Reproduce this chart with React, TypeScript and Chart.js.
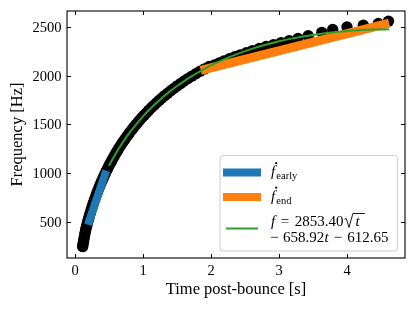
import React, { useEffect, useRef } from "react";
import { Chart, registerables } from "chart.js";

Chart.register(...registerables);

// ---- axis ranges & ticks ----
const xRange = [-0.118, 4.853];
const yRange = [128, 2664];
const xTicks = [0, 1, 2, 3, 4];
const yTicks = [500, 1000, 1500, 2000, 2500];

// ---- observed frequency track (time [s], frequency [Hz]) ----
const observed: [number, number][] = [
  [0.112, 245], [0.117, 266], [0.123, 290], [0.129, 314], [0.136, 340], [0.143, 366],
  [0.15, 393], [0.158, 420], [0.167, 445], [0.176, 470], [0.185, 495], [0.195, 520],
  [0.205, 545], [0.215, 570], [0.226, 595], [0.237, 620], [0.248, 645], [0.26, 670],
  [0.271, 695], [0.284, 720], [0.296, 745], [0.309, 770], [0.322, 795], [0.336, 820],
  [0.35, 845], [0.365, 870], [0.38, 895], [0.395, 920], [0.411, 945], [0.427, 970],
  [0.444, 995], [0.46, 1020], [0.478, 1045], [0.496, 1070], [0.515, 1095], [0.534, 1120],
  [0.553, 1145], [0.574, 1170], [0.594, 1195], [0.615, 1220], [0.637, 1245], [0.659, 1270],
  [0.682, 1295], [0.706, 1320], [0.731, 1345], [0.757, 1370], [0.782, 1395], [0.808, 1420],
  [0.836, 1445], [0.864, 1470], [0.893, 1495], [0.922, 1520], [0.953, 1545], [0.984, 1570],
  [1.018, 1595], [1.052, 1620], [1.086, 1645], [1.122, 1670], [1.159, 1695], [1.196, 1720],
  [1.237, 1745], [1.277, 1770], [1.319, 1795], [1.363, 1820], [1.408, 1845], [1.455, 1870],
  [1.503, 1895], [1.554, 1920], [1.605, 1945], [1.661, 1970], [1.717, 1995], [1.777, 2020],
  [1.84, 2045], [1.904, 2070], [1.973, 2095], [2.05, 2110], [2.12, 2131], [2.19, 2151],
  [2.27, 2173], [2.35, 2194], [2.43, 2214], [2.52, 2236], [2.61, 2257], [2.71, 2279],
  [2.81, 2299], [2.92, 2319], [3.03, 2339], [3.15, 2360], [3.28, 2382], [3.43, 2410],
  [3.63, 2445], [3.79, 2474], [4.0, 2499], [4.24, 2517], [4.46, 2535], [4.61, 2558],
];

// ---- linear fits ----
const earlyFit: [number, number][] = [[0.19, 470], [0.46, 1025]];
const endFit: [number, number][] = [[1.85, 2054], [4.62, 2540]];

// ---- sqrt fit curve ----
const sqrtFit: [number, number][] = [
  [0.5, 1075], [0.55, 1141], [0.6, 1202], [0.65, 1260], [0.7, 1313], [0.8, 1412],
  [0.9, 1501], [1.0, 1582], [1.1, 1655], [1.2, 1722], [1.3, 1784], [1.4, 1841],
  [1.5, 1894], [1.6, 1942], [1.7, 1988], [1.8, 2030], [1.9, 2068], [2.0, 2105],
  [2.2, 2170], [2.4, 2226], [2.6, 2275], [2.8, 2317], [3.0, 2353], [3.2, 2383],
  [3.4, 2408], [3.6, 2429], [3.8, 2446], [4.0, 2458], [4.2, 2468], [4.4, 2473], [4.62, 2476],
];

const BLUE = "#1f77b4";
const ORANGE = "#ff7f0e";
const GREEN = "#2ca02c";
const SERIF = '"Liberation Serif", "Times New Roman", serif';

const toXY = (arr: [number, number][]) => arr.map(([x, y]) => ({ x, y }));

function drawLegend(ctx: CanvasRenderingContext2D) {
  const bx = 220, by = 155.5, bw = 177.5, bh = 95.5, r = 3;
  ctx.save();
  ctx.beginPath();
  ctx.moveTo(bx + r, by);
  ctx.arcTo(bx + bw, by, bx + bw, by + bh, r);
  ctx.arcTo(bx + bw, by + bh, bx, by + bh, r);
  ctx.arcTo(bx, by + bh, bx, by, r);
  ctx.arcTo(bx, by, bx + bw, by, r);
  ctx.closePath();
  ctx.fillStyle = "rgba(255,255,255,0.8)";
  ctx.fill();
  ctx.strokeStyle = "#cccccc";
  ctx.lineWidth = 1;
  ctx.stroke();

  // handles
  ctx.lineCap = "butt";
  ctx.strokeStyle = BLUE;
  ctx.lineWidth = 8;
  ctx.beginPath(); ctx.moveTo(223, 172.5); ctx.lineTo(261, 172.5); ctx.stroke();
  ctx.strokeStyle = ORANGE;
  ctx.beginPath(); ctx.moveTo(223, 197); ctx.lineTo(261, 197); ctx.stroke();
  ctx.strokeStyle = GREEN;
  ctx.lineWidth = 2;
  ctx.beginPath(); ctx.moveTo(226, 228.5); ctx.lineTo(258, 228.5); ctx.stroke();

  ctx.fillStyle = "#000";
  ctx.textAlign = "left";
  ctx.textBaseline = "alphabetic";
  const fs = 15;
  const rom = `${fs}px ${SERIF}`;
  const ita = `italic ${fs}px ${SERIF}`;
  const sub = `10.5px ${SERIF}`;
  const put = (t: string, font: string, x: number, y: number) => {
    ctx.font = font;
    ctx.fillText(t, x, y);
    return x + ctx.measureText(t).width;
  };
  const fdot = (x: number, y: number, label: string) => {
    const e = put("f", ita, x, y);
    ctx.beginPath();
    ctx.arc(x + 5.2, y - 12.8, 1.1, 0, Math.PI * 2);
    ctx.fill();
    put(label, sub, e + 1.2, y + 3);
  };
  fdot(271, 176, "early");
  fdot(271, 200.5, "end");

  // line 1: f = 2853.40 sqrt(t)
  let x = put("f", ita, 271, 225.5);
  x = put("=", rom, x + 5.5, 225.5);
  x = put("2853.40", rom, x + 5.5, 225.5);
  // radical sign
  ctx.strokeStyle = "#000";
  ctx.lineWidth = 0.9;
  ctx.lineCap = "butt";
  ctx.beginPath();
  ctx.moveTo(x + 1.2, 219.5);
  ctx.lineTo(x + 2.8, 218.3);
  ctx.lineTo(x + 5.6, 227.5);
  ctx.lineTo(x + 9.5, 213.5);
  ctx.lineTo(x + 21.5, 213.5);
  ctx.stroke();
  put("t", ita, x + 12, 225.5);

  // line 2: - 658.92t - 612.65
  x = put("\u2212", rom, 270, 241.5);
  x = put("658.92", rom, x + 4.5, 241.5);
  x = put("t", ita, x + 0.3, 241.5);
  x = put("\u2212", rom, x + 5, 241.5);
  put("612.65", rom, x + 5, 241.5);
  ctx.restore();
}

const framePlugin = {
  id: "mplFrame",
  afterDraw(chart: any) {
    const { ctx, chartArea: a, scales } = chart;
    ctx.save();
    ctx.strokeStyle = "#000";
    ctx.lineWidth = 1.1;
    ctx.strokeRect(a.left, a.top, a.right - a.left, a.bottom - a.top);
    const L = 4;
    ctx.lineWidth = 1;
    ctx.beginPath();
    for (const v of xTicks) {
      const px = Math.round(scales.x.getPixelForValue(v)) + 0.5;
      ctx.moveTo(px, a.bottom); ctx.lineTo(px, a.bottom - L);
      ctx.moveTo(px, a.top); ctx.lineTo(px, a.top + L);
    }
    for (const v of yTicks) {
      const py = Math.round(scales.y.getPixelForValue(v)) + 0.5;
      ctx.moveTo(a.left, py); ctx.lineTo(a.left + L, py);
      ctx.moveTo(a.right, py); ctx.lineTo(a.right - L, py);
    }
    ctx.stroke();

    // tick labels
    ctx.fillStyle = "#000";
    ctx.font = `14.5px ${SERIF}`;
    ctx.textBaseline = "alphabetic";
    ctx.textAlign = "center";
    for (const v of xTicks) {
      ctx.fillText(String(v), scales.x.getPixelForValue(v), 275);
    }
    ctx.textAlign = "right";
    for (const v of yTicks) {
      ctx.fillText(String(v), 61.5, scales.y.getPixelForValue(v) + 5);
    }

    // axis titles
    ctx.font = `16.5px ${SERIF}`;
    ctx.textAlign = "center";
    ctx.fillText("Time post-bounce [s]", (a.left + a.right) / 2, 293.5);
    ctx.save();
    ctx.translate(21.5, (a.top + a.bottom) / 2);
    ctx.rotate(-Math.PI / 2);
    ctx.fillText("Frequency [Hz]", 0, 0);
    ctx.restore();
    ctx.restore();

    drawLegend(ctx);
  },
};

export default function App() {
  const ref = useRef<HTMLCanvasElement | null>(null);
  useEffect(() => {
    document.body.style.margin = "0";
    if (!ref.current) return;
    const chart = new Chart(ref.current, {
      type: "scatter",
      data: {
        datasets: [
          {
            label: "fit",
            data: toXY(sqrtFit),
            showLine: true,
            borderColor: GREEN,
            borderWidth: 2,
            pointRadius: 0,
            cubicInterpolationMode: "monotone",
            order: 0,
          } as any,
          {
            label: "end",
            data: toXY(endFit),
            showLine: true,
            borderColor: ORANGE,
            borderWidth: 9,
            borderCapStyle: "butt",
            pointRadius: 0,
            order: 1,
          } as any,
          {
            label: "early",
            data: toXY(earlyFit),
            showLine: true,
            borderColor: BLUE,
            borderWidth: 8,
            borderCapStyle: "butt",
            pointRadius: 0,
            order: 2,
          } as any,
          {
            label: "data",
            data: toXY(observed),
            showLine: false,
            pointRadius: 5.7,
            pointBorderWidth: 0,
            pointBackgroundColor: "#000",
            pointBorderColor: "#000",
            order: 3,
          } as any,
        ],
      },
      options: {
        animation: false,
        responsive: false,
        maintainAspectRatio: false,
        layout: { padding: { left: 0, top: 11, right: 11, bottom: 0 } },
        plugins: { legend: { display: false }, tooltip: { enabled: false } },
        scales: {
          x: {
            type: "linear",
            min: xRange[0],
            max: xRange[1],
            grid: { display: false, drawTicks: false },
            border: { display: false },
            ticks: { display: false },
            afterFit: (s: any) => { s.height = 51; },
          },
          y: {
            type: "linear",
            min: yRange[0],
            max: yRange[1],
            grid: { display: false, drawTicks: false },
            border: { display: false },
            ticks: { display: false },
            afterFit: (s: any) => { s.width = 67; },
          },
        },
      },
      plugins: [framePlugin],
    });
    return () => chart.destroy();
  }, []);
  return <canvas ref={ref} width={416} height={309} style={{ display: "block" }} />;
}
